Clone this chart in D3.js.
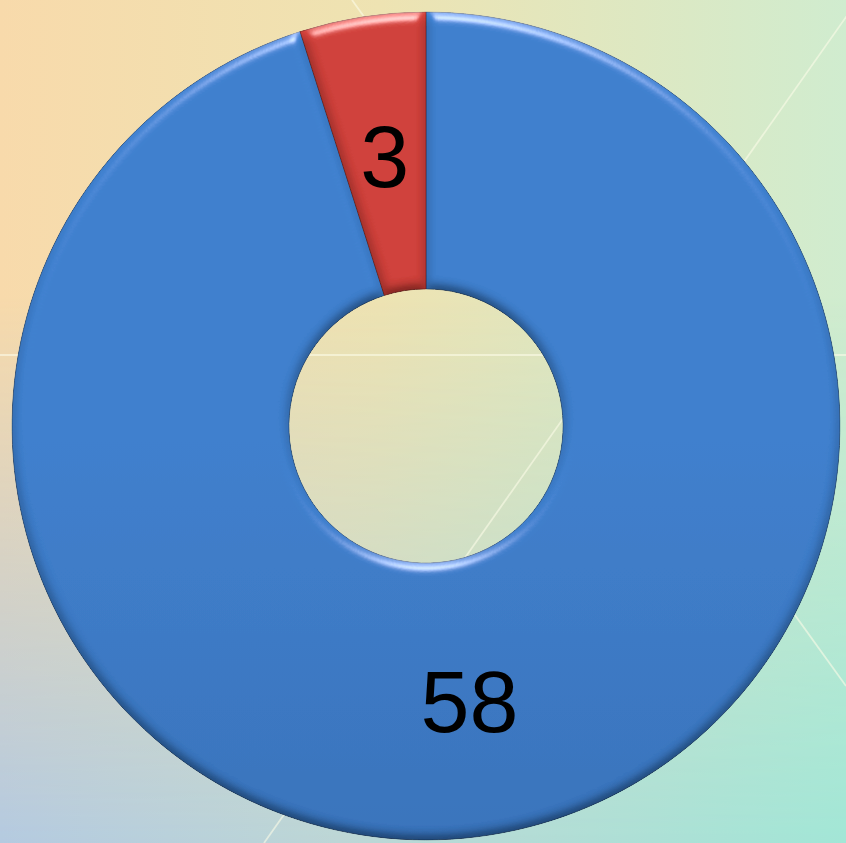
<!DOCTYPE html>
<html>
<head>
<meta charset="utf-8">
<script src="https://cdn.jsdelivr.net/npm/d3@7/dist/d3.min.js"></script>
<style>
  html, body { margin: 0; padding: 0; overflow: hidden; }
  svg { display: block; }
</style>
</head>
<body>
<script>
const categories = ["A", "B"];
const values = [58, 3];
const sliceColors = [["#3e7fcd", "#3166a8"], ["#cf403a", "#b3322c"]];

const width = 846, height = 843;
const cx = 426, cy = 426;
const outerR = 414, innerR = 137;

const svg = d3.select("body").append("svg")
    .attr("width", width)
    .attr("height", height);

const defs = svg.append("defs");

// background: bilinear blend of four corner colours
let topGrad = defs.append("linearGradient").attr("id", "bgTop").attr("x1", 0).attr("x2", 1).attr("y1", 0).attr("y2", 0);
topGrad.append("stop").attr("offset", 0).attr("stop-color", "#f8daab");
topGrad.append("stop").attr("offset", 0.45).attr("stop-color", "#eee3b2");
topGrad.append("stop").attr("offset", 1).attr("stop-color", "#d0eccf");

let botGrad = defs.append("linearGradient").attr("id", "bgBot").attr("x1", 0).attr("x2", 1).attr("y1", 0).attr("y2", 0);
botGrad.append("stop").attr("offset", 0).attr("stop-color", "#b4cae0");
botGrad.append("stop").attr("offset", 0.4).attr("stop-color", "#bcd6d6");
botGrad.append("stop").attr("offset", 1).attr("stop-color", "#a2e6d6");

let maskGrad = defs.append("linearGradient").attr("id", "bgMaskGrad").attr("x1", 0).attr("x2", 0).attr("y1", 0).attr("y2", 1);
maskGrad.append("stop").attr("offset", 0.35).attr("stop-color", "#000");
maskGrad.append("stop").attr("offset", 1).attr("stop-color", "#fff");
defs.append("mask").attr("id", "bgMask")
    .append("rect").attr("width", width).attr("height", height).attr("fill", "url(#bgMaskGrad)");

svg.append("rect").attr("width", width).attr("height", height).attr("fill", "url(#bgTop)");
svg.append("rect").attr("width", width).attr("height", height).attr("fill", "url(#bgBot)").attr("mask", "url(#bgMask)");

// faint light streaks in the backdrop
const streaks = [
    [[0, 355], [846, 355]],
    [[858, 0], [264, 843]],
    [[352, 0], [846, 686]]
];
svg.append("g").selectAll("line").data(streaks).join("line")
    .attr("x1", d => d[0][0]).attr("y1", d => d[0][1])
    .attr("x2", d => d[1][0]).attr("y2", d => d[1][1])
    .attr("stroke", "#fbfbe8")
    .attr("stroke-opacity", 0.6)
    .attr("stroke-width", 1.8);

// slice fills
sliceColors.forEach((c, i) => {
    let g = defs.append("linearGradient").attr("id", "slice" + i)
        .attr("gradientUnits", "userSpaceOnUse")
        .attr("x1", 0).attr("x2", 0).attr("y1", cy - outerR).attr("y2", cy + outerR);
    g.append("stop").attr("offset", 0).attr("stop-color", c[0]);
    g.append("stop").attr("offset", 1).attr("stop-color", c[1]);
});

// bevel: light from the top
const bevel = defs.append("filter").attr("id", "bevel")
    .attr("x", "-5%").attr("y", "-5%").attr("width", "110%").attr("height", "110%");
bevel.append("feGaussianBlur").attr("in", "SourceAlpha").attr("stdDeviation", 6).attr("result", "blur");
bevel.append("feDiffuseLighting").attr("in", "blur").attr("surfaceScale", 6)
    .attr("diffuseConstant", 1).attr("lighting-color", "#fff").attr("result", "diff")
    .append("feDistantLight").attr("azimuth", 270).attr("elevation", 60);
bevel.append("feComposite").attr("in", "SourceGraphic").attr("in2", "diff")
    .attr("operator", "arithmetic").attr("k1", 1.155).attr("k2", 0).attr("k3", 0).attr("k4", 0)
    .attr("result", "shaded");
bevel.append("feSpecularLighting").attr("in", "blur").attr("surfaceScale", 6)
    .attr("specularConstant", 0.8).attr("specularExponent", 45).attr("lighting-color", "#fff").attr("result", "spec")
    .append("feDistantLight").attr("azimuth", 270).attr("elevation", 35);
bevel.append("feComposite").attr("in", "spec").attr("in2", "SourceAlpha").attr("operator", "in").attr("result", "specIn");
bevel.append("feComposite").attr("in", "specIn").attr("in2", "shaded")
    .attr("operator", "arithmetic").attr("k1", 0).attr("k2", 0.7).attr("k3", 1).attr("k4", 0)
    .attr("result", "lit");
bevel.append("feComposite").attr("in", "lit").attr("in2", "SourceAlpha").attr("operator", "in");

const pie = d3.pie().sort(null).value(d => d)(values);
const arc = d3.arc().innerRadius(innerR).outerRadius(outerR);

const chart = svg.append("g").attr("transform", `translate(${cx},${cy})`);

chart.selectAll("path.slice").data(pie).join("path")
    .attr("class", "slice")
    .attr("d", arc)
    .attr("fill", (d, i) => `url(#slice${i})`)
    .attr("stroke", (d, i) => d3.color(sliceColors[i][1]).darker(0.8))
    .attr("stroke-width", 0.8)
    .attr("filter", "url(#bevel)");

chart.selectAll("text.label").data(pie).join("text")
    .attr("class", "label")
    .attr("transform", d => {
        const [x, y] = arc.centroid(d);
        return `translate(${x + 1},${y + 2})`;
    })
    .attr("text-anchor", "middle")
    .attr("dy", "0.36em")
    .attr("font-family", "Liberation Sans, Arial, sans-serif")
    .attr("font-size", 88)
    .attr("fill", "#000")
    .text(d => d.data);
</script>
</body>
</html>
